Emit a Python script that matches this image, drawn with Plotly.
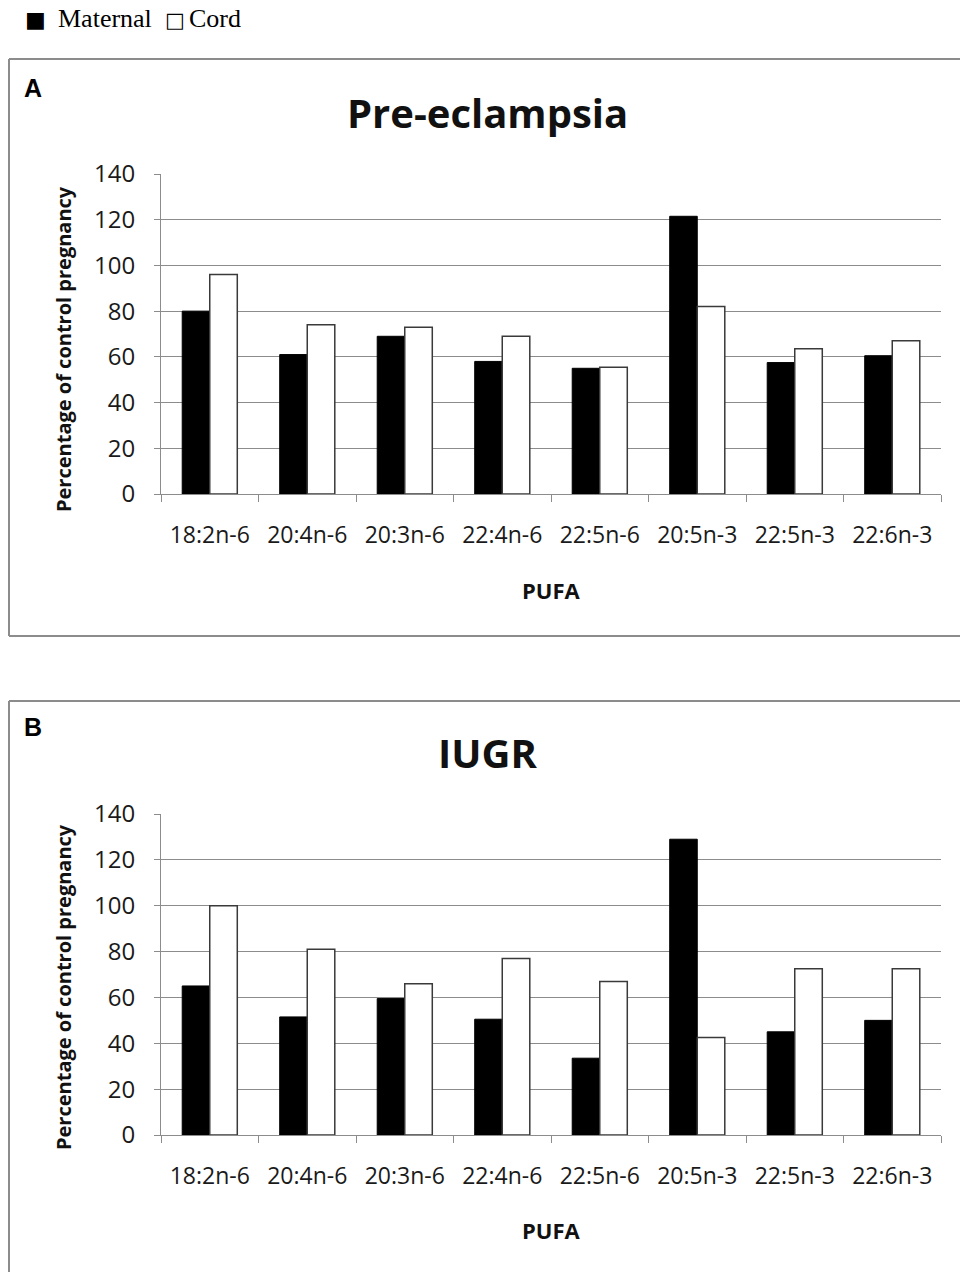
import plotly.graph_objects as go

categories = ["18:2n-6", "20:4n-6", "20:3n-6", "22:4n-6", "22:5n-6", "20:5n-3", "22:5n-3", "22:6n-3"]
pe_maternal = [80, 61, 69, 58, 55, 121.5, 57.5, 60.5]
pe_cord = [96, 74, 73, 69, 55.5, 82, 63.5, 67]
iugr_maternal = [65, 51.5, 59.5, 50.5, 33.5, 129, 45, 50]
iugr_cord = [100, 81, 66, 77, 67, 42.5, 72.5, 72.5]
y_ticks = [0, 20, 40, 60, 80, 100, 120, 140]

W, H = 960, 1272
def px(x): return x / W
def py(y): return 1 - y / H

fig = go.Figure()
panels = [
    ("x", "y", pe_maternal, pe_cord),
    ("x2", "y2", iugr_maternal, iugr_cord),
]
for xa, ya, mat, cord in panels:
    fig.add_trace(go.Bar(x=categories, y=mat, name="Maternal", xaxis=xa, yaxis=ya,
                         marker=dict(color="black", line=dict(color="black", width=1)),
                         showlegend=False))
    fig.add_trace(go.Bar(x=categories, y=cord, name="Cord", xaxis=xa, yaxis=ya,
                         marker=dict(color="white", line=dict(color="#3a3a3a", width=1.5)),
                         showlegend=False))

SANS = "Open Sans, Noto Sans, sans-serif"
xcommon = dict(showline=True, linecolor="#8c8c8c", linewidth=1, ticks="outside", tickson="boundaries",
               ticklen=7, tickcolor="#8c8c8c", tickfont=dict(family=SANS, size=23, color="#1a1a1a"),
               ticklabelstandoff=20, showgrid=False, automargin=False, domain=[px(161), px(941)])
ycommon = dict(range=[0, 140], tickvals=y_ticks, showline=True, linecolor="#8c8c8c", linewidth=1,
               ticks="outside", ticklen=6, tickcolor="#8c8c8c", showgrid=True, gridcolor="#8c8c8c",
               gridwidth=1, tickfont=dict(family=SANS, size=24, color="#1a1a1a"),
               ticklabelstandoff=14, zeroline=False, automargin=False)

fig.update_layout(
    width=W, height=H, margin=dict(l=0, r=0, t=0, b=0, autoexpand=False),
    paper_bgcolor="white", plot_bgcolor="white",
    barmode="group", bargap=0.435, bargroupgap=0,
    xaxis=dict(**xcommon, anchor="y"),
    yaxis=dict(**ycommon, domain=[py(494), py(174)], anchor="x"),
    xaxis2=dict(**xcommon, anchor="y2"),
    yaxis2=dict(**ycommon, domain=[py(1135), py(814)], anchor="x2"),
)

# panel frames drawn as separate edge lines that stay inside the page
frame = dict(color="#8c8c8c", width=2)
def edge(x0, y0, x1, y1):
    fig.add_shape(type="line", xref="paper", yref="paper", x0=x0, y0=y0, x1=x1, y1=y1,
                  line=frame, layer="below")
edge(px(9), py(59), 1.0, py(59))
edge(px(9), py(636), 1.0, py(636))
edge(px(9), py(59), px(9), py(636))
edge(px(9), py(701), 1.0, py(701))
edge(px(9), py(701), px(9), 0.0)

SERIF = "Liberation Serif, Times New Roman, serif"
ann = []
ann.append(dict(text="■", x=px(35), y=py(20), xanchor="center", yanchor="middle",
                font=dict(family="DejaVu Sans, sans-serif", size=22, color="black")))
ann.append(dict(text="Maternal", x=px(56), y=py(18), xanchor="left", yanchor="middle",
                font=dict(family=SERIF, size=26, color="black")))
ann.append(dict(text="□", x=px(175), y=py(20), xanchor="center", yanchor="middle",
                font=dict(family="DejaVu Sans, sans-serif", size=21, color="black")))
ann.append(dict(text="Cord", x=px(187), y=py(18), xanchor="left", yanchor="middle",
                font=dict(family=SERIF, size=26, color="black")))
for letter, ly, title, ty, ycen, pufa_y in [("A", 88, "Pre-eclampsia", 113, 349, 590),
                                             ("B", 727, "IUGR", 753, 987, 1230)]:
    ann.append(dict(text="<b>%s</b>" % letter, x=px(33), y=py(ly), xanchor="center", yanchor="middle",
                    font=dict(family="Liberation Sans, Arial, sans-serif", size=25, color="black")))
    ann.append(dict(text="<b>%s</b>" % title, x=px(487), y=py(ty), xanchor="center", yanchor="middle",
                    font=dict(family=SANS, size=40, color="#111")))
    ann.append(dict(text="<b>Percentage of control pregnancy</b>", x=px(63), y=py(ycen), textangle=-90,
                    xanchor="center", yanchor="middle",
                    font=dict(family=SANS, size=20, color="#111")))
    ann.append(dict(text="<b>PUFA</b>", x=px(551), y=py(pufa_y), xanchor="center", yanchor="middle",
                    font=dict(family=SANS, size=22, color="#111")))
for a in ann:
    a.update(xref="paper", yref="paper", showarrow=False)
fig.update_layout(annotations=ann)

post = ("var gd=document.getElementById('{plot_id}');"
        "document.documentElement.style.overflow='hidden';"
        "document.body.style.margin='0';document.body.style.overflow='hidden';"
        "gd.style.position='absolute';gd.style.left='0px';gd.style.top='0px';")
fig.write_html("out.html", post_script=post, config={"displayModeBar": False})
